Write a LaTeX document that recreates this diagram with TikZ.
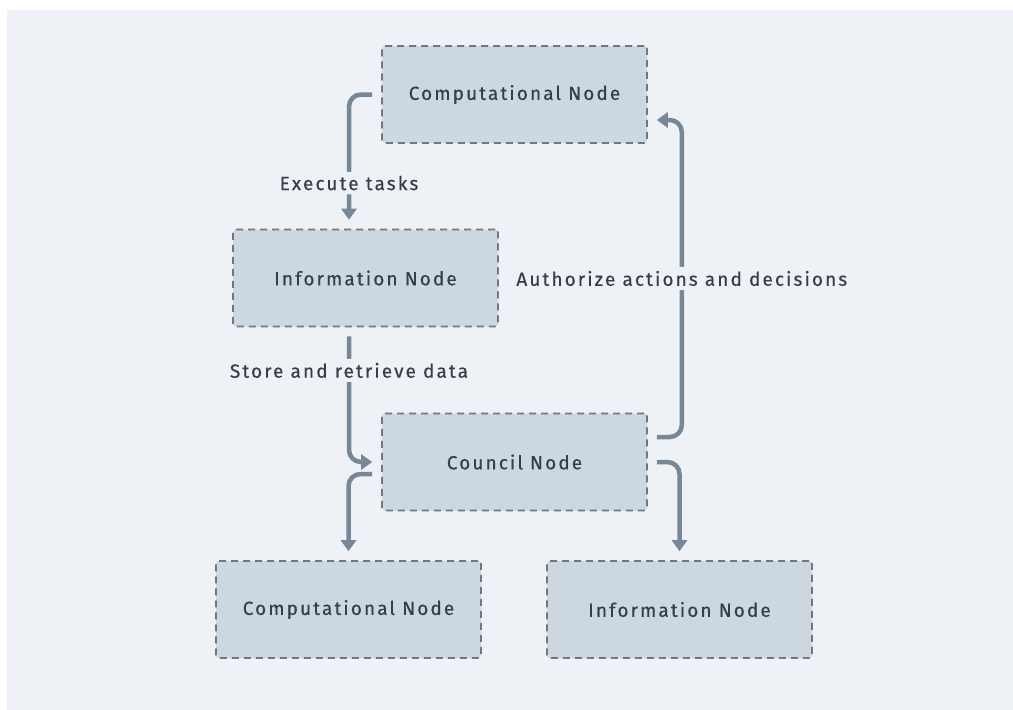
\documentclass[tikz,border=0pt]{standalone}
\usepackage{fontspec}
\setmainfont[LetterSpace=11,FakeBold=0.4]{Fira Sans}
\usetikzlibrary{arrows.meta}
\definecolor{bgc}{HTML}{EEF2F6}
\definecolor{boxfill}{HTML}{CDD7E0}
\definecolor{boxdraw}{HTML}{6E7880}
\definecolor{linec}{HTML}{778796}
\definecolor{txtc}{HTML}{363E48}
\tikzset{
  nodebox/.style={draw=boxdraw, fill=boxfill, line width=1.6pt, dash pattern=on 7pt off 5pt,
    rounded corners=3pt, minimum width=265pt, minimum height=97pt, inner sep=0pt,
    text=txtc, font=\fontsize{19}{22}\selectfont},
  flow/.style={draw=linec, line width=4.5pt, rounded corners=12pt,
    -{Triangle[width=15pt,length=11pt]}, shorten <=9pt, shorten >=9pt},
  lbl/.style={fill=bgc, text=txtc, font=\fontsize{19}{22}\selectfont, inner sep=4pt}
}
\begin{document}
\begin{tikzpicture}[x=1pt,y=-1pt]
\useasboundingbox (0,0) rectangle (1013,710);
\fill[white] (0,0) rectangle (1013,710);
\fill[bgc] (7,10) rectangle (1013,710);
\node[nodebox] (ct) at (514.5,94.5) {Computational Node};
\node[nodebox] (inf) at (365.5,278) {Information Node};
\node[nodebox] (cn) at (514.5,462) {Council Node};
\node[nodebox] (cb) at (348.5,609.5) {Computational Node};
\node[nodebox] (ib) at (679.5,609.5) {Information Node};
\draw[flow] (ct.west) -| node[lbl, pos=0.83] {Execute tasks} ([xshift=-16.5]inf.north);
\draw[flow] ([xshift=-16.5]inf.south) |- node[lbl, pos=0.16] {Store and retrieve data} (cn.west);
\draw[flow] ([yshift=25]cn.east) -- ++(34,0) |- node[lbl, pos=0.25] {Authorize actions and decisions} ([yshift=-25.5]ct.east);
\draw[flow] ([yshift=-12]cn.west) -| (cb.north);
\draw[flow] (cn.east) -| (ib.north);
\end{tikzpicture}
\end{document}
